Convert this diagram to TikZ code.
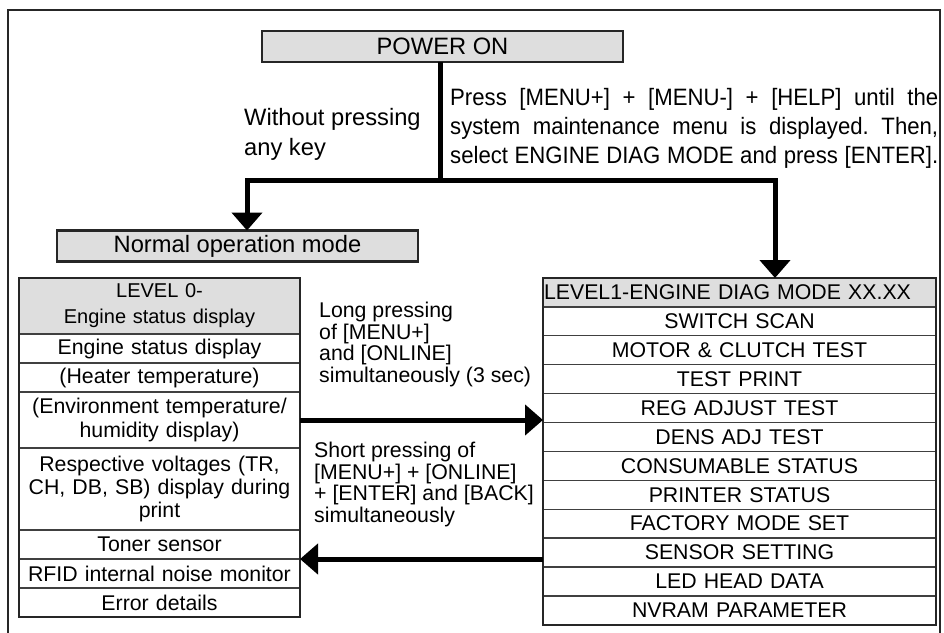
\documentclass[tikz,border=0pt]{standalone}
\usepackage{fontspec}
\setmainfont{Liberation Sans}
\newfontfamily\narrowsans{Liberation Sans}[FakeStretch=0.935]
\usepackage{tikz}
\usetikzlibrary{arrows.meta, positioning}
\newcommand{\jline}[1]{\makebox[488pt][s]{#1}}
\frenchspacing

\begin{document}
\begin{tikzpicture}[x=1pt, y=-1pt,
  title/.style={rectangle, draw=black!85, line width=2.2pt, fill=black!13, inner sep=0pt,
                outer sep=0pt, minimum width=361pt, minimum height=31pt,
                font=\fontsize{23.7}{26}\selectfont},
  cell/.style={rectangle, draw=black!75, line width=1.3pt, inner sep=0pt, outer sep=0pt,
               align=center, font=\fontsize{21.3}{23.4}\selectfont},
  lcell/.style={cell, text width=281pt, minimum height=29pt},
  rcell/.style={cell, text width=393pt, minimum height=28.9pt},
  note/.style={inner sep=0pt, align=left, anchor=north west, font=\fontsize{21.3}{21.6}\selectfont},
  frame/.style={line width=2.4pt, draw=black!85},
  flow/.style={line width=5pt, -{Triangle[length=18pt, width=30pt]}},
]
\useasboundingbox (0,0) rectangle (944,632);
\draw[frame] (8,645) -- (8,10) -- (940,10) -- (940,645);

\node[title] (power)  at (442.5,46.5) {POWER ON};
\node[title] (normal) at (237.5,246)  {Normal operation mode};

\node[note, font=\fontsize{23.7}{30}\selectfont] (nokey) at (244,108) {Without pressing\\any key};
\node[note, font=\narrowsans\fontsize{23.7}{29}\selectfont] (press) at (450,88)
  {\jline{Press [MENU+] + [MENU-] + [HELP] until the}\\
   \jline{system maintenance menu is displayed. Then,}\\
   \jline{select ENGINE DIAG MODE and press [ENTER].}};

\node[lcell, fill=black!13, minimum height=56pt, font=\fontsize{20}{26}\selectfont]
  (l0) at (159.5,306) {LEVEL 0-\\Engine status display};
\node[lcell, below=0pt of l0] (l1) {Engine status display};
\node[lcell, below=0pt of l1] (l2) {(Heater temperature)};
\node[lcell, below=0pt of l2, minimum height=56pt] (l3) {(Environment temperature/\\humidity display)};
\node[lcell, below=0pt of l3, minimum height=82pt] (l4) {Respective voltages (TR,\\CH, DB, SB) display during\\print};
\node[lcell, below=0pt of l4] (l5) {Toner sensor};
\node[lcell, below=0pt of l5] (l6) {RFID internal noise monitor};
\node[lcell, below=0pt of l6] (l7) {Error details};
\draw[frame, line width=2.2pt] (l0.north west) rectangle (l7.south east);

\node[rcell, fill=black!13, align=left] (r0) at (739.5,292.45) {\hspace{1pt}LEVEL1-ENGINE DIAG MODE XX.XX};
\node[rcell, below=0pt of r0]  (r1)  {SWITCH SCAN};
\node[rcell, below=0pt of r1]  (r2)  {MOTOR \& CLUTCH TEST};
\node[rcell, below=0pt of r2]  (r3)  {TEST PRINT};
\node[rcell, below=0pt of r3]  (r4)  {REG ADJUST TEST};
\node[rcell, below=0pt of r4]  (r5)  {DENS ADJ TEST};
\node[rcell, below=0pt of r5]  (r6)  {CONSUMABLE STATUS};
\node[rcell, below=0pt of r6]  (r7)  {PRINTER STATUS};
\node[rcell, below=0pt of r7]  (r8)  {FACTORY MODE SET};
\node[rcell, below=0pt of r8]  (r9)  {SENSOR SETTING};
\node[rcell, below=0pt of r9]  (r10) {LED HEAD DATA};
\node[rcell, below=0pt of r10] (r11) {NVRAM PARAMETER};
\draw[frame, line width=2.2pt] (r0.north west) rectangle (r11.south east);

\node[note] (longpress)  at (319,302) {Long pressing\\of [MENU+]\\and [ONLINE]\\simultaneously (3 sec)};
\node[note] (shortpress) at (314,442) {Short pressing of\\{[MENU+] + [ONLINE]}\\+ [ENTER] and [BACK]\\simultaneously};

\coordinate (split) at (440,180);
\coordinate (lbend) at (247,180);
\coordinate (rbend) at (775,180);
\draw[line width=5pt] (power.south -| split) -- (split);
\draw[flow] (split) -- (lbend) -- (lbend |- normal.north);
\draw[flow] (split) -- (rbend) -- (rbend |- r0.north);
\draw[flow] (l3.east) -- (l3.east -| r0.west);
\draw[flow] (l6.north east -| r9.west) -- (l6.north east);
\end{tikzpicture}
\end{document}
